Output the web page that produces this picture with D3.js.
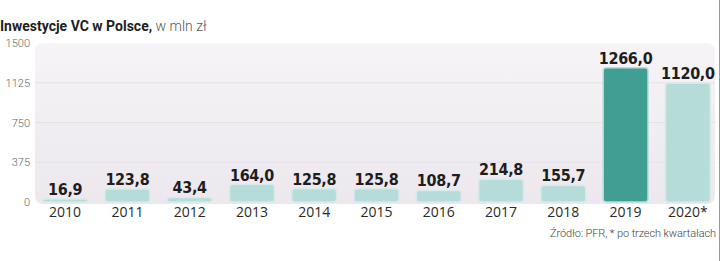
<!DOCTYPE html>
<html>
<head>
<meta charset="utf-8">
<script src="https://cdn.jsdelivr.net/npm/d3@7"></script>
<style>
  body { margin: 0; background: #fff; }
  svg { display: block; }
</style>
</head>
<body>
<div class="container"></div>
<script>
var years  = ['2010','2011','2012','2013','2014','2015','2016','2017','2018','2019','2020*'];
var values = [16.9, 123.8, 43.4, 164.0, 125.8, 125.8, 108.7, 214.8, 155.7, 1266.0, 1120.0];
var ticks  = [0, 375, 750, 1125, 1500];
var highlight = '2019';

var W = 720, H = 261;

var svg = d3.select('.container')
    .append('svg')
    .attr('width', W)
    .attr('height', H);

var defs = svg.append('defs');
var grad = defs.append('linearGradient')
    .attr('id', 'bg')
    .attr('x1', 0).attr('y1', 0).attr('x2', 0).attr('y2', 1);
grad.append('stop').attr('offset', '0%').attr('stop-color', '#f6f4f7');
grad.append('stop').attr('offset', '100%').attr('stop-color', '#ece8ee');

var x = d3.scaleBand()
    .domain(years)
    .range([34, 719])
    .paddingInner(0.28)
    .paddingOuter(0.14);

var y = d3.scaleLinear()
    .domain([0, 1500])
    .range([202, 43]);

// panel
svg.append('rect')
    .attr('x', 35)
    .attr('y', y(1500))
    .attr('width', 680)
    .attr('height', y(0) - y(1500) + 2)
    .attr('rx', 8)
    .style('fill', 'url(#bg)');

// grid
svg.selectAll('.grid')
    .data(ticks.filter(d => d > 0 && d < 1500))
    .enter()
    .append('line')
    .attr('class', 'grid')
    .attr('x1', 35)
    .attr('x2', 715)
    .attr('y1', d => y(d))
    .attr('y2', d => y(d))
    .style('stroke', '#e6e1e7')
    .style('stroke-width', 1);

// y axis labels
svg.selectAll('.ytick')
    .data(ticks)
    .enter()
    .append('text')
    .attr('class', 'ytick')
    .attr('x', 30)
    .attr('y', d => y(d) + 4)
    .attr('text-anchor', 'end')
    .style('font-family', 'Roboto, sans-serif')
    .style('font-weight', 300)
    .style('font-size', '11px')
    .style('fill', '#666')
    .text(d => d);

// bars
svg.selectAll('.bar')
    .data(years)
    .enter()
    .append('rect')
    .attr('class', 'bar')
    .attr('x', d => x(d))
    .attr('width', x.bandwidth())
    .attr('y', (d, i) => Math.min(y(values[i]), y(0) - 3))
    .attr('height', (d, i) => Math.max(y(0) - y(values[i]), 3))
    .attr('rx', 3)
    .style('fill', d => d == highlight ? '#419e93' : '#b5dcd9')
    .style('stroke', d => d == highlight ? '#b9ddd9' : '#d9e9e8')
    .style('stroke-width', 1.5);

// value labels
svg.selectAll('.val')
    .data(years)
    .enter()
    .append('text')
    .attr('class', 'val')
    .attr('x', d => x(d) + x.bandwidth() / 2)
    .attr('y', (d, i) => Math.min(y(values[i]), y(0) - 3) - 4)
    .attr('text-anchor', 'middle')
    .style('font-family', '"DejaVu Sans Condensed", "DejaVu Sans", sans-serif')
    .style('font-weight', 'bold')
    .style('font-size', '16px')
    .style('letter-spacing', '-0.3px')
    .style('fill', '#1e1e1e')
    .text((d, i) => values[i].toFixed(1).replace('.', ','));

// year labels
svg.selectAll('.year')
    .data(years)
    .enter()
    .append('text')
    .attr('class', 'year')
    .attr('x', d => x(d) + x.bandwidth() / 2)
    .attr('y', 217)
    .attr('text-anchor', 'middle')
    .style('font-family', '"Open Sans", sans-serif')
    .style('font-size', '14px')
    .style('fill', '#2a2a2a')
    .text(d => d);

// title
var title = svg.append('text')
    .attr('x', 0)
    .attr('y', 31)
    .style('font-family', 'Roboto, sans-serif')
    .style('font-size', '14px');
title.append('tspan')
    .style('font-weight', 'bold')
    .style('fill', '#1e1e1e')
    .text('Inwestycje VC w Polsce,');
title.append('tspan')
    .style('font-weight', 300)
    .style('fill', '#555')
    .text(' w mln zł');

// source
svg.append('text')
    .attr('x', 716)
    .attr('y', 237)
    .attr('text-anchor', 'end')
    .style('font-family', 'Roboto, sans-serif')
    .style('font-weight', 300)
    .style('font-size', '11px')
    .style('letter-spacing', '-0.1px')
    .style('fill', '#444')
    .text('Źródło: PFR, * po trzech kwartałach');

// right rule
svg.append('line')
    .attr('x1', 719.5).attr('x2', 719.5)
    .attr('y1', 0).attr('y2', H)
    .style('stroke', '#999')
    .style('stroke-width', 1);
</script>
</body>
</html>
